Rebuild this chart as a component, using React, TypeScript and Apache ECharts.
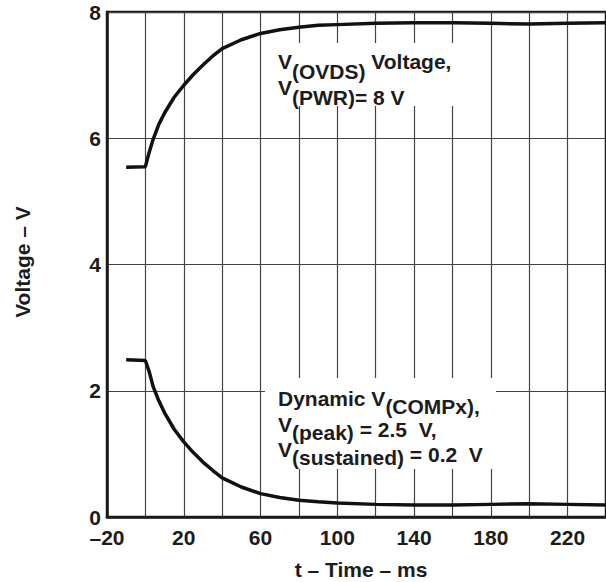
import React, { useEffect, useRef } from "react";
import * as echarts from "echarts";

// time in ms
const TIME = [-10, 0, 2, 4, 7, 10, 15, 20, 25, 30, 35, 40, 50, 60, 70, 80, 90, 100, 120, 140, 160, 180, 200, 220, 240];
// V(OVDS) voltage, V(PWR) = 8 V
const V_OVDS = [5.54, 5.55, 5.78, 5.98, 6.22, 6.4, 6.65, 6.84, 7.01, 7.16, 7.3, 7.42, 7.56, 7.66, 7.72, 7.76, 7.79, 7.8, 7.82, 7.83, 7.83, 7.82, 7.81, 7.82, 7.83];
// Dynamic V(COMPx)
const V_COMPX = [2.49, 2.48, 2.3, 2.07, 1.84, 1.65, 1.39, 1.19, 1.02, 0.87, 0.74, 0.62, 0.475, 0.37, 0.31, 0.265, 0.24, 0.22, 0.2, 0.19, 0.19, 0.2, 0.21, 0.2, 0.19];

const X_TICK_VALUES = [-20, 20, 60, 100, 140, 180, 220];
const X_TICK_LABELS = ["–20", "20", "60", "100", "140", "180", "220"];
const Y_TICK_VALUES = [0, 2, 4, 6, 8];
const Y_TICK_LABELS = ["0", "2", "4", "6", "8"];

const X_TITLE = "t – Time – ms";
const Y_TITLE = "Voltage – V";

const FONT = '"Liberation Sans", Arial, Helvetica, sans-serif';
const TEXT_COLOR = "#1c1c1c";

export default function App() {
  const ref = useRef<HTMLDivElement>(null);

  useEffect(() => {
    if (!ref.current) return;
    const chart = echarts.init(ref.current, undefined, { renderer: "svg" });

    const base = { fontFamily: FONT, fontWeight: "bold", fontSize: 21, fill: TEXT_COLOR, color: TEXT_COLOR };

    chart.setOption({
      animation: false,
      backgroundColor: "#ffffff",
      grid: {
        left: 107,
        top: 12,
        width: 507,
        height: 505,
        show: true,
        borderColor: "#1a1a1a",
        borderWidth: 2.5,
        backgroundColor: "transparent",
      },
      xAxis: {
        type: "value",
        min: -20,
        max: 240,
        interval: 20,
        axisLine: { show: true, onZero: false, lineStyle: { color: "#1a1a1a", width: 2.5 } },
        axisTick: { show: false },
        splitLine: { show: true, lineStyle: { color: "#444", width: 1.2 } },
        axisLabel: {
          margin: 12,
          lineHeight: 16,
          fontFamily: FONT,
          fontWeight: "bold",
          fontSize: 21,
          color: TEXT_COLOR,
          showMaxLabel: false,
          formatter: (v: number) => {
            const i = X_TICK_VALUES.indexOf(v);
            return i >= 0 ? X_TICK_LABELS[i] : "";
          },
        },
      },
      yAxis: {
        type: "value",
        min: 0,
        max: 8,
        interval: 2,
        axisLine: { show: true, onZero: false, lineStyle: { color: "#1a1a1a", width: 2.5 } },
        axisTick: { show: false },
        splitLine: { show: true, lineStyle: { color: "#444", width: 1.2 } },
        axisLabel: {
          margin: 6,
          lineHeight: 16,
          fontFamily: FONT,
          fontWeight: "bold",
          fontSize: 21,
          color: TEXT_COLOR,
          formatter: (v: number) => {
            const i = Y_TICK_VALUES.indexOf(v);
            return i >= 0 ? Y_TICK_LABELS[i] : "";
          },
        },
      },
      series: [
        {
          name: "V(OVDS)",
          type: "line",
          data: TIME.map((t, i) => [t, V_OVDS[i]]),
          showSymbol: false,
          smooth: false,
          lineStyle: { color: "#111", width: 3.5 },
          z: 3,
        },
        {
          name: "V(COMPx)",
          type: "line",
          data: TIME.map((t, i) => [t, V_COMPX[i]]),
          showSymbol: false,
          smooth: false,
          lineStyle: { color: "#111", width: 3.5 },
          z: 3,
        },
      ],
      graphic: [
        { type: "rect", z: 5, shape: { x: 265, y: 43, width: 205, height: 63 }, style: { fill: "#fff" } },
        { type: "rect", z: 5, shape: { x: 265, y: 378, width: 231, height: 91 }, style: { fill: "#fff" } },
        {
          type: "text",
          z: 6,
          x: 278,
          y: 51,
          style: {
            text: "{v|V}{s|(OVDS)}{v| Voltage,}\n{v|V}{s|(PWR)= 8 V}",
            align: "left",
            textAlign: "left",
            verticalAlign: "top",
            textVerticalAlign: "top",
            ...base,
            rich: {
              v: { ...base, lineHeight: 26, verticalAlign: "top" },
              s: { ...base, lineHeight: 26, verticalAlign: "top", padding: [10, 0, 0, 0] },
            },
          },
        },
        {
          type: "text",
          z: 6,
          x: 278,
          y: 388,
          style: {
            text:
              "{v|Dynamic V}{s|(COMPx),}\n{v|V}{s|(peak)}{m| = 2.5  V,}\n{v|V}{s|(sustained)}{m| = 0.2  V}",
            align: "left",
            textAlign: "left",
            verticalAlign: "top",
            textVerticalAlign: "top",
            ...base,
            rich: {
              v: { ...base, lineHeight: 25.5, verticalAlign: "top" },
              s: { ...base, lineHeight: 25.5, verticalAlign: "top", padding: [8, 0, 0, 0] },
              m: { ...base, lineHeight: 25.5, verticalAlign: "top", padding: [5, 0, 0, 0] },
            },
          },
        },
        {
          type: "text",
          x: 22,
          y: 262,
          rotation: Math.PI / 2,
          style: {
            text: Y_TITLE,
            align: "center",
            textAlign: "center",
            verticalAlign: "middle",
            textVerticalAlign: "middle",
            ...base,
          },
        },
        {
          type: "text",
          x: 361,
          y: 569,
          style: {
            text: X_TITLE,
            align: "center",
            textAlign: "center",
            verticalAlign: "middle",
            textVerticalAlign: "middle",
            ...base,
          },
        },
      ],
    });

    return () => chart.dispose();
  }, []);

  return (
    <div
      ref={ref}
      style={{ position: "fixed", left: 0, top: 0, width: 606, height: 582, background: "#fff" }}
    />
  );
}
